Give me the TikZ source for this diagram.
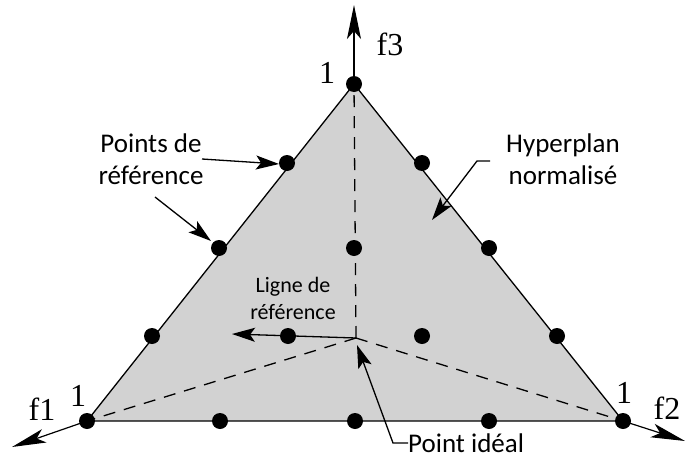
\documentclass[tikz,border=0pt]{standalone}
\usepackage{fontspec}
\setmainfont{Liberation Serif}
\newfontfamily\labfont{Carlito}
\usetikzlibrary{arrows.meta}
\begin{document}
\begin{tikzpicture}[x=1pt,y=-1pt,
  dot/.style={circle,fill=black,inner sep=0pt,minimum size=16pt},
  rim/.style={line width=1.3pt},
  guide/.style={line width=1.3pt,dash pattern=on 12pt off 9pt},
  axis/.style={line width=1.2pt,-{Stealth[length=34pt,width=14pt,inset=8pt]}},
  callout/.style={line width=1.3pt,-{Stealth[length=23pt,width=14pt,inset=5pt]}},
  lab/.style={font=\labfont\fontsize{27}{32}\selectfont,align=center,inner sep=0pt},
  smalllab/.style={font=\labfont\fontsize{22}{27}\selectfont,align=center,inner sep=0pt},
  ax/.style={font=\fontsize{32}{36}\selectfont,inner sep=0pt}]
\useasboundingbox (0,0) rectangle (686,458);

% simplex corners and ideal point
\coordinate (O) at (356,338);
\coordinate (A) at (354,84);
\coordinate (B) at (87,421);
\coordinate (C) at (623,421);
\coordinate (e3) at (354,5);
\coordinate (e1) at (12,447);
\coordinate (e2) at (685,441);

% normalised hyperplane
\fill[gray!35] (A) -- (B) -- (C) -- cycle;
\draw[rim] (A) -- (B) -- (C) -- cycle;

% projections of the axes inside the plane
\draw[guide] (O) -- (A);
\draw[guide] (O) -- (B);
\draw[guide] (O) -- (C);

% objective axes
\draw[axis] (A) -- (e3);
\draw[axis] (B) -- (e1);
\draw[axis] (C) -- (e2);

% reference line
\coordinate (L) at (232,334);
\draw[callout] (O) -- (L);

% reference points
\foreach \n/\p in {a/{354,84},b/{287,163},c/{219,248},d/{152,336},e/{87,421},
                   f/{422,163},g/{489,248},h/{557,336},i/{623,421},
                   j/{220,421},k/{355,421},l/{489,421},
                   m/{354,248},n/{288,336},o/{422,336}}
  \node[dot] (p\n) at (\p) {};

% axis labels
\node[ax] (f3) at (390,44) {f3};
\node[ax] (one3) at (327,73) {1};
\node[ax] (f1) at (42,409) {f1};
\node[ax] (one1) at (78,396) {1};
\node[ax] (f2) at (667,408) {f2};
\node[ax] (one2) at (624,393) {1};

% annotations
\node[lab] (refpts) at (151,159) {Points de\\référence};
\draw[callout] (202,159) -- (279,164);
\draw[callout] (155,197) -- (211,241);

\node[lab] (hyper) at (563,159) {Hyperplan\\normalisé};
\draw[callout] (490,161) -- (477,161) -- (432,220);

\node[smalllab] (refline) at (293,298) {Ligne de\\référence};

\node[lab,anchor=west] (ideal) at (408,443) {Point idéal};
\draw[callout] (ideal.west) -- (393,443) -- (357,345);
\end{tikzpicture}
\end{document}
